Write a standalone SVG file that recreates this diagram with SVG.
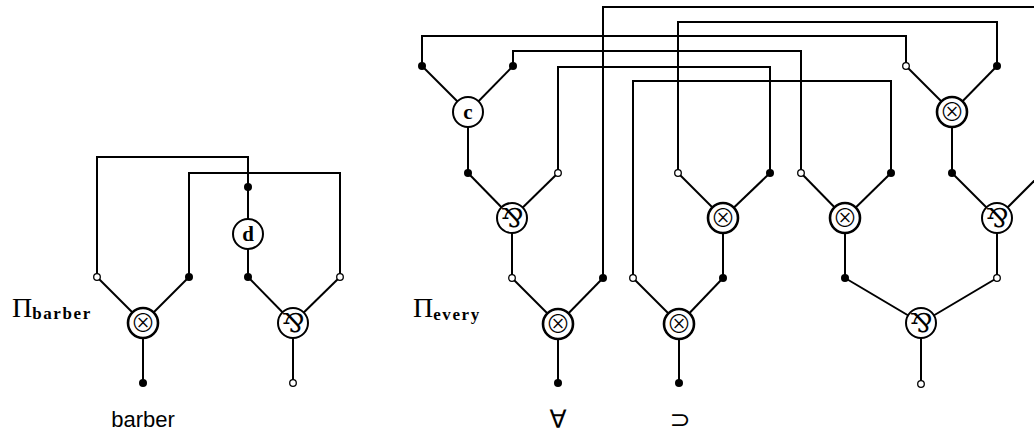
<svg xmlns="http://www.w3.org/2000/svg" width="1034" height="434" viewBox="0 0 1034 434">
<style>
.w{fill:none;stroke:#000;stroke-width:2;stroke-linejoin:miter}
.f{fill:#000}
.o{fill:#fff;stroke:#000;stroke-width:1.3}
.n{fill:#fff;stroke:#000;stroke-width:2}
.nt{fill:#fff;stroke:#000;stroke-width:2.6}
.sym{font-family:"DejaVu Serif","DejaVu Sans",serif;font-size:26px;text-anchor:middle}
.tim{font-family:"Noto Sans CJK JP","DejaVu Sans",sans-serif;font-weight:300;font-size:25px;text-anchor:middle}
.let{font-family:"Liberation Serif",serif;font-weight:bold;font-size:21px;text-anchor:middle}
.pi{font-family:"Liberation Serif",serif;font-size:28px}
.sub{font-family:"Liberation Serif",serif;font-weight:bold;font-size:17px}
.lab{font-family:"Liberation Sans",sans-serif;font-size:22px;text-anchor:middle}
.lab2{font-family:"DejaVu Sans",sans-serif;font-size:25px;text-anchor:middle}
</style>
<g id="connectors" class="w">
<polyline points="97,277 97,157 248,157 248,187"/>
<polyline points="189,277 189,173 340,173 340,277"/>
<line x1="97" y1="277" x2="143" y2="323"/>
<line x1="189" y1="277" x2="143" y2="323"/>
<line x1="143" y1="323" x2="143" y2="383"/>
<line x1="248" y1="277" x2="293" y2="323"/>
<line x1="340" y1="277" x2="293" y2="323"/>
<line x1="293" y1="323" x2="293" y2="383"/>
<line x1="248" y1="187" x2="248" y2="277"/>
<polyline points="603,278 603,7 1042,7 1042,173"/>
<polyline points="678,173 678,22 997,22 997,66"/>
<polyline points="422,66 422,36 906,36 906,66"/>
<polyline points="513,66 513,51 801,51 801,173"/>
<polyline points="558,173 558,67 770,67 770,173"/>
<polyline points="633,278 633,81 891,81 891,173"/>
<line x1="422" y1="66" x2="468" y2="112"/>
<line x1="513" y1="66" x2="468" y2="112"/>
<line x1="468" y1="112" x2="468" y2="173"/>
<line x1="468" y1="173" x2="512" y2="218"/>
<line x1="558" y1="173" x2="512" y2="218"/>
<line x1="512" y1="218" x2="512" y2="278"/>
<line x1="512" y1="278" x2="558" y2="324"/>
<line x1="603" y1="278" x2="558" y2="324"/>
<line x1="558" y1="324" x2="558" y2="383"/>
<line x1="633" y1="278" x2="679" y2="324"/>
<line x1="723" y1="278" x2="679" y2="324"/>
<line x1="679" y1="324" x2="679" y2="383"/>
<line x1="678" y1="173" x2="723" y2="218"/>
<line x1="770" y1="173" x2="723" y2="218"/>
<line x1="723" y1="218" x2="723" y2="278"/>
<line x1="801" y1="173" x2="845" y2="218"/>
<line x1="891" y1="173" x2="845" y2="218"/>
<line x1="845" y1="218" x2="845" y2="278"/>
<line x1="906" y1="66" x2="952" y2="112"/>
<line x1="997" y1="66" x2="952" y2="112"/>
<line x1="952" y1="112" x2="952" y2="173"/>
<line x1="952" y1="173" x2="997" y2="218"/>
<line x1="1042" y1="173" x2="997" y2="218"/>
<line x1="997" y1="218" x2="997" y2="278"/>
<line x1="845" y1="278" x2="921" y2="323"/>
<line x1="997" y1="278" x2="921" y2="323"/>
<line x1="921" y1="323" x2="921" y2="384"/>
</g>
<g id="ports">
<circle class="o" cx="97" cy="277" r="3.3"/>
<circle class="f" cx="189" cy="277" r="4"/>
<circle class="f" cx="143" cy="383" r="4"/>
<circle class="f" cx="248" cy="277" r="4"/>
<circle class="o" cx="340" cy="277" r="3.3"/>
<circle class="o" cx="293" cy="383" r="3.3"/>
<circle class="f" cx="248" cy="187" r="4"/>
<circle class="f" cx="422" cy="66" r="4"/>
<circle class="f" cx="513" cy="66" r="4"/>
<circle class="f" cx="468" cy="173" r="4"/>
<circle class="o" cx="558" cy="173" r="3.3"/>
<circle class="o" cx="512" cy="278" r="3.3"/>
<circle class="f" cx="603" cy="278" r="4"/>
<circle class="f" cx="558" cy="383" r="4"/>
<circle class="o" cx="633" cy="278" r="3.3"/>
<circle class="f" cx="723" cy="278" r="4"/>
<circle class="f" cx="679" cy="383" r="4"/>
<circle class="o" cx="678" cy="173" r="3.3"/>
<circle class="f" cx="770" cy="173" r="4"/>
<circle class="o" cx="801" cy="173" r="3.3"/>
<circle class="f" cx="891" cy="173" r="4"/>
<circle class="f" cx="845" cy="278" r="4"/>
<circle class="o" cx="906" cy="66" r="3.3"/>
<circle class="f" cx="997" cy="66" r="4"/>
<circle class="f" cx="952" cy="173" r="4"/>
<circle class="o" cx="997" cy="278" r="3.3"/>
<circle class="o" cx="921" cy="384" r="3.3"/>
</g>
<g id="T1"><circle class="nt" cx="143" cy="323" r="15"/><text class="tim" x="143" y="332">⊗</text></g>
<g id="P1"><circle class="n" cx="293" cy="323" r="15"/><text class="sym" x="293" y="332">⅋</text></g>
<g id="D"><circle class="n" cx="248" cy="234" r="15"/><text class="let" x="248" y="241">d</text></g>
<g id="C"><circle class="n" cx="468" cy="112" r="15"/><text class="let" x="468" y="119">c</text></g>
<g id="P2"><circle class="n" cx="512" cy="218" r="15"/><text class="sym" x="512" y="227">⅋</text></g>
<g id="T2"><circle class="nt" cx="558" cy="324" r="15"/><text class="tim" x="558" y="333">⊗</text></g>
<g id="T3"><circle class="nt" cx="679" cy="324" r="15"/><text class="tim" x="679" y="333">⊗</text></g>
<g id="T4"><circle class="nt" cx="723" cy="218" r="15"/><text class="tim" x="723" y="227">⊗</text></g>
<g id="T5"><circle class="nt" cx="845" cy="218" r="15"/><text class="tim" x="845" y="227">⊗</text></g>
<g id="T6"><circle class="nt" cx="952" cy="112" r="15"/><text class="tim" x="952" y="121">⊗</text></g>
<g id="P3"><circle class="n" cx="997" cy="218" r="15"/><text class="sym" x="997" y="227">⅋</text></g>
<g id="P4"><circle class="n" cx="921" cy="323" r="15"/><text class="sym" x="921" y="332">⅋</text></g>
<g id="labels">
<text x="12" y="317"><tspan class="pi">Π</tspan><tspan class="sub" dy="2" textLength="58" lengthAdjust="spacing">barber</tspan></text>
<text x="413" y="317"><tspan class="pi">Π</tspan><tspan class="sub" dy="3" textLength="46" lengthAdjust="spacing">every</tspan></text>
<text class="lab" x="143" y="427">barber</text>
<text class="lab2" x="558" y="428">∀</text>
<text class="lab2" x="680" y="428">⊃</text>
</g>
</svg>
